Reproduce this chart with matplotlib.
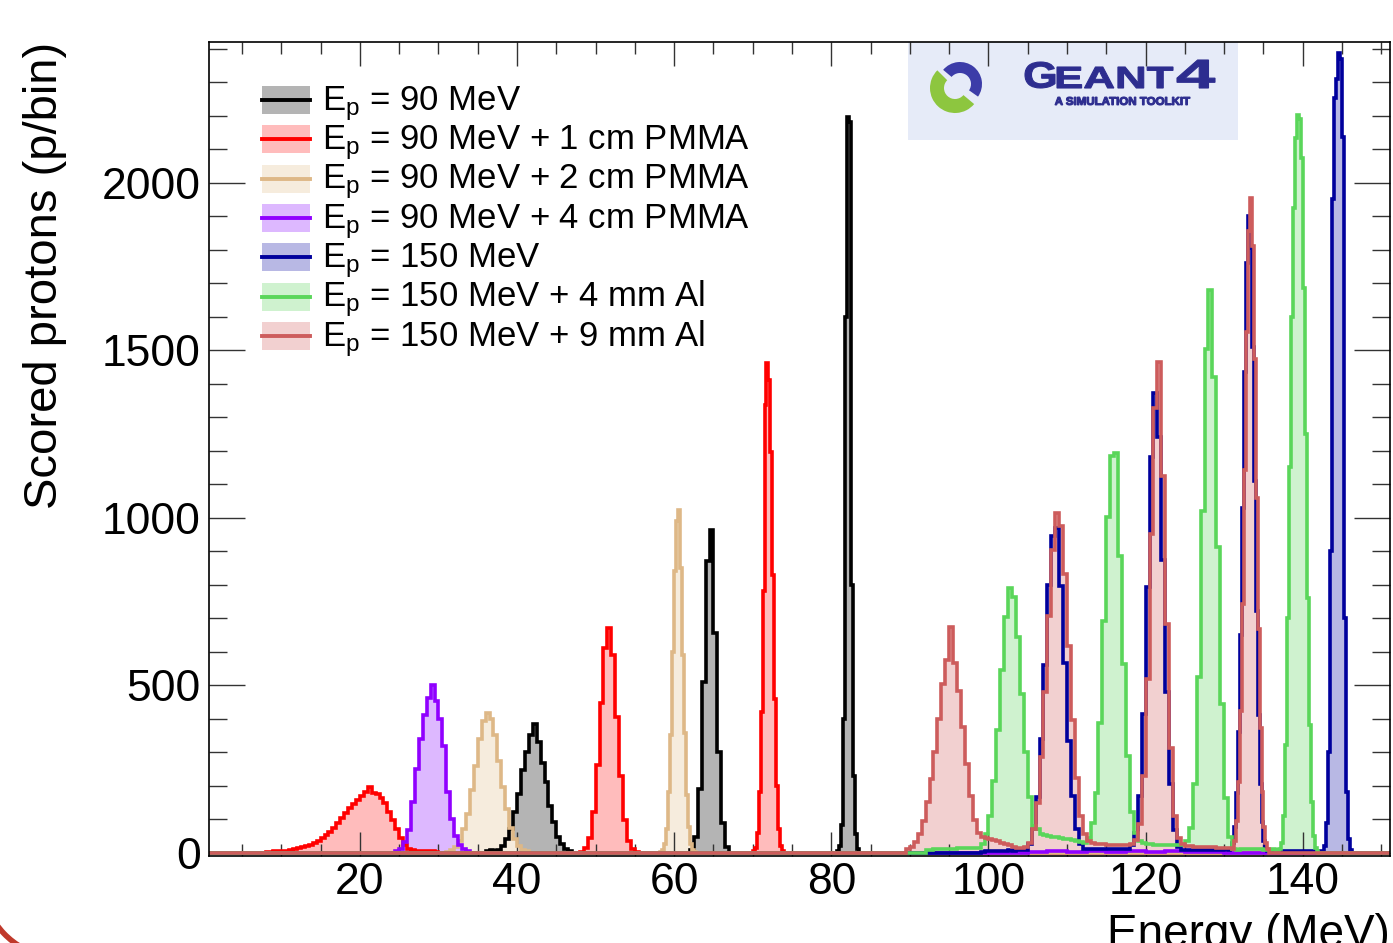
import matplotlib
matplotlib.use('Agg')
import matplotlib.pyplot as plt
from matplotlib.patches import Rectangle, Wedge, PathPatch, Arc
from matplotlib.lines import Line2D
from matplotlib.textpath import TextPath
from matplotlib.font_manager import FontProperties
from matplotlib.transforms import Affine2D
from matplotlib.ticker import MultipleLocator
import numpy as np

plt.rcParams['font.family'] = ['Liberation Sans', 'DejaVu Sans']
plt.rcParams['mathtext.fontset'] = 'custom'
plt.rcParams['mathtext.rm'] = 'Liberation Sans'
plt.rcParams['mathtext.it'] = 'Liberation Sans:italic'

# histogram range (MeV)
x_lo, x_hi = 0.8, 151.1

labels = [r'E$_{\mathregular{p}}$ = 90 MeV',
          r'E$_{\mathregular{p}}$ = 90 MeV + 1 cm PMMA',
          r'E$_{\mathregular{p}}$ = 90 MeV + 2 cm PMMA',
          r'E$_{\mathregular{p}}$ = 90 MeV + 4 cm PMMA',
          r'E$_{\mathregular{p}}$ = 150 MeV',
          r'E$_{\mathregular{p}}$ = 150 MeV + 4 mm Al',
          r'E$_{\mathregular{p}}$ = 150 MeV + 9 mm Al']
colors = ['#000000', '#ff0000', '#deb887', '#9000ff', '#00009c', '#5ad65a', '#cd5c5c']
fills = ['#b4b4b4', '#ffbcbc', '#f6ecdd', '#ddb8ff', '#b8b8e4', '#cff2cf', '#f2d0d0']

# each series: list of (first bin edge, bin width, counts per bin); zero elsewhere
black = [
    (36.0, 0.5, [6, 8, 4, 9, 21, 40, 70, 122, 176, 248, 300, 352, 385, 331, 268, 212, 140, 92, 48, 25, 11, 5]),
    (62.0, 0.5, [7, 46, 190, 510, 870, 964, 655, 300, 88, 17]),
    (80.75, 0.25, [5, 20, 84, 400, 1600, 2197, 2180, 800, 230, 55, 12]),
]
red = [
    (8.0, 0.5, [3, 3, 4, 4, 5, 6, 8, 10, 14, 17, 21, 24, 29, 36, 44, 52, 62, 75, 88, 104, 118, 132,
                145, 158, 170, 180, 197, 178, 176, 163, 148, 122, 96, 72, 44, 24, 12, 8, 6, 5, 5, 4, 4, 3]),
    (48.0, 0.5, [3, 13, 44, 120, 262, 446, 610, 672, 590, 405, 228, 97, 35, 10, 3]),
    (70.0, 0.25, [4, 15, 60, 180, 420, 780, 1337, 1463, 1412, 1197, 830, 460, 200, 70, 20, 5]),
]
tan = [
    (31.0, 0.5, [3, 7, 17, 36, 70, 115, 186, 258, 338, 392, 417, 398, 352, 274, 196, 131, 74, 42, 19, 9, 4]),
    (58.25, 0.25, [2, 8, 27, 72, 180, 350, 600, 840, 990, 1024, 850, 590, 358, 172, 76, 25, 8, 2]),
]
purple = [
    (24.5, 0.5, [4, 12, 32, 68, 150, 250, 340, 410, 462, 500, 452, 398, 318, 180, 100, 50, 24, 10, 4]),
    (105.0, 2.5, [3, 4, 3, 4, 3, 4, 3, 4, 3, 3]),
]
blue = [
    (99.0, 0.5, [3, 4, 4, 5, 5, 6, 6, 7, 6, 7, 8]),
    (104.5, 0.5, [7, 25, 70, 165, 338, 560, 800, 945, 970, 795, 566, 332, 170, 72, 26, 12]),
    (112.5, 0.5, [12, 12, 11, 12, 11, 10, 11, 10, 10, 11]),
    (117.5, 0.5, [12, 22, 60, 168, 413, 792, 1180, 1373, 1241, 874, 480, 205, 68, 18, 8]),
    (125.0, 0.5, [9, 9, 8, 9, 8, 9, 8, 8, 9, 9, 10]),
    (130.5, 0.25, [9, 10, 29, 76, 177, 361, 650, 1030, 1434, 1759, 1900, 1804, 1510, 1110, 720,
                   411, 206, 91, 35, 12, 4]),
    (135.75, 0.75, [6, 5, 6, 5, 6, 5, 6, 5, 6]),
    (142.5, 0.25, [6, 20, 90, 300, 900, 1950, 2253, 2310, 2388, 2370, 2137, 700, 180, 40, 8]),
]
green = [
    (92.0, 0.5, [8, 9, 10, 10, 11, 12, 12, 12, 13, 13, 14, 14, 14]),
    (98.5, 0.5, [14, 26, 56, 109, 214, 366, 544, 702, 791, 764,
                 645, 473, 300, 166, 80, 70, 55, 52, 50, 48,
                 46, 44, 42, 40, 38, 36, 33, 30, 45, 90,
                 177, 387, 691, 1002, 1183, 1194, 885, 562, 290, 122,
                 60, 35, 28, 26, 25, 24, 24, 23, 23, 22,
                 22, 22, 24, 34, 75, 205, 525, 1020, 1503, 1681,
                 1421, 913, 444, 163, 46, 12, 8]),
    (132.0, 0.5, [10, 11, 12, 11, 10, 10, 9, 9, 10, 9]),
    (137.0, 0.25, [10, 30, 110, 320, 700, 1150, 1600, 1925, 2134, 2203, 2190, 2075, 1686, 1250,
                   760, 380, 150, 50, 15, 5]),
]
al9 = [
    (89.5, 0.5, [10, 18, 32, 55, 95, 150, 220, 300, 398, 503,
                 576, 675, 566, 484, 375, 264, 168, 97, 60, 48,
                 44, 42, 38, 34, 30, 26, 22, 18, 15, 14,
                 18, 30, 70, 148, 286, 481, 706, 904, 1015, 975,
                 833, 616, 397, 223, 109, 55, 35, 28, 27, 25,
                 25, 24, 24, 23, 22, 22, 22, 25, 38, 85,
                 230, 518, 952, 1327, 1466, 1124, 682, 313, 109, 44,
                 25, 20, 19, 18, 18, 17, 17, 16, 16, 15,
                 15, 14, 14]),
    (131.0, 0.25, [12, 36, 94, 212, 423, 741, 1143, 1553, 1856, 1955, 1810, 1475, 1060, 668, 372,
                   182, 78, 30, 10]),
]
series = [black, red, tan, purple, blue, green, al9]


def to_stairs(segs):
    edges = [x_lo]
    vals = []
    for start, width, counts in segs:
        if start > edges[-1]:
            vals.append(0)
            edges.append(start)
        for i, c in enumerate(counts):
            vals.append(c)
            edges.append(start + width * (i + 1))
    vals.append(0)
    edges.append(x_hi)
    return np.array(vals, dtype=float), np.array(edges)


W, H = 1393, 943
fig = plt.figure(figsize=(W / 100, H / 100), dpi=100)
fig.patch.set_facecolor('white')
ax = fig.add_axes([209 / W, 1 - 856 / H, 1181 / W, 814 / H], zorder=2)
ax.set_facecolor('none')

hists = [to_stairs(s) for s in series]
# fills first, then outlines, so earlier outlines show through later fills
for (v, e), fc in zip(hists, fills):
    ax.stairs(v, e, fill=True, color=fc, lw=0, zorder=1)
for (v, e), col in zip(hists, colors):
    ax.stairs(v, e, color=col, lw=2.6, zorder=2)

ax.set_xlim(x_lo, x_hi)
ax.set_ylim(-10, 2420)
ax.xaxis.set_major_locator(MultipleLocator(20))
ax.xaxis.set_minor_locator(MultipleLocator(5))
ax.yaxis.set_major_locator(MultipleLocator(500))
ax.yaxis.set_minor_locator(MultipleLocator(100))
ax.tick_params(which='both', direction='in', top=True, right=True, width=1.0, color='#333333')
ax.tick_params(axis='x', which='major', length=17, labelsize=32, pad=4)
ax.tick_params(axis='x', which='minor', length=8.6)
ax.tick_params(axis='y', which='major', length=26, labelsize=32, pad=6)
ax.tick_params(axis='y', which='minor', length=13)
for s in ax.spines.values():
    s.set_linewidth(1.2)

fig.text(45 / W, 1 - 42 / H, 'Scored protons (p/bin)', rotation=90, ha='center', va='top', fontsize=34)
fig.text(1390 / W, 1 - 947 / H, 'Energy (MeV)', ha='right', va='baseline', fontsize=33)

# legend drawn by hand to get ROOT-like spacing
for i, (lab, col, fc) in enumerate(zip(labels, colors, fills)):
    yc = 0.9287 - i * 0.04834
    ax.add_patch(Rectangle((0.0449, yc - 0.0172), 0.0406, 0.0344, transform=ax.transAxes,
                           facecolor=fc, lw=0))
    ax.add_line(Line2D([0.0449, 0.0855], [yc, yc], transform=ax.transAxes, color=col, lw=2.8))
    ax.text(0.0957, yc - 0.0123, lab, transform=ax.transAxes, fontsize=25, va='baseline', ha='left')

# Geant4 logo box
lg = fig.add_axes([908 / W, 1 - 140 / H, 330 / W, 98 / H], zorder=1)
lg.set_facecolor('#e6ebf8')
lg.set_xlim(0, 330)
lg.set_ylim(0, 98)
lg.set_xticks([])
lg.set_yticks([])
for s in lg.spines.values():
    s.set_visible(False)
lg.add_patch(Wedge((47, 52), 25, 135, 320, width=14, color='#8dc63f', lw=0))
lg.add_patch(Wedge((52, 56), 22, -35, 140, width=11, color='#3c3ca8', lw=0))

navy = '#2d2d8f'


def fit_text(s, x0, x1, y0, y1, color):
    fp = FontProperties(family='Liberation Sans', weight='bold')
    tp = TextPath((0, 0), s, size=10, prop=fp)
    ext = tp.get_extents()
    tr = Affine2D().translate(-ext.x0, -ext.y0).scale((x1 - x0) / ext.width,
                                                      (y1 - y0) / ext.height).translate(x0, y0)
    lg.add_patch(PathPatch(tr.transform_path(tp), facecolor=color, edgecolor=color, lw=0.8))


fit_text('G', 117, 147, 52, 78, navy)
fit_text('EANT', 149, 265, 52, 73, navy)
fit_text('4', 269, 307, 52, 80, navy)
fit_text('A SIMULATION TOOLKIT', 147, 282, 35, 43, navy)

# red slide decoration in bottom-left corner
fig.add_artist(Arc((0.60, 0.63), 1.55, 1.55, theta1=205, theta2=242,
                   transform=fig.dpi_scale_trans, color='#c0392b', lw=4))

fig.savefig('out.png', dpi=100)
